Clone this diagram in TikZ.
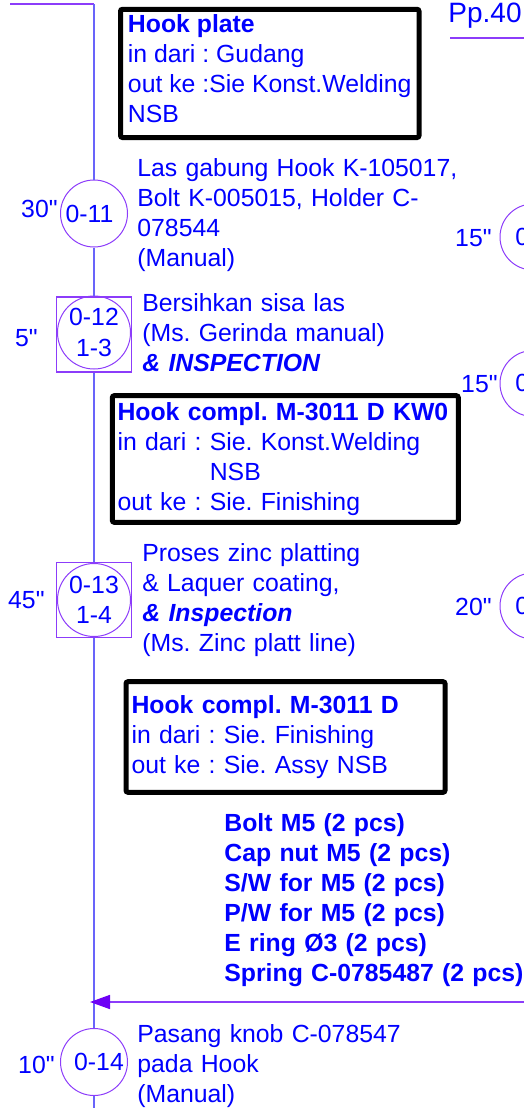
\documentclass[tikz,border=0pt]{standalone}
\usepackage{fontspec}
\setmainfont{Liberation Sans}[Ligatures=TeXOff]
\usepackage{tikz}
\usetikzlibrary{arrows.meta, positioning}
\usepackage{xcolor}
\definecolor{txtblue}{RGB}{0,0,255}
\definecolor{flowline}{RGB}{105,100,250}
\definecolor{oppurple}{RGB}{140,60,250}
\definecolor{arrowviolet}{RGB}{110,0,245}
\frenchspacing

\begin{document}
\begin{tikzpicture}[x=0.5pt, y=-0.5pt,
    every node/.style={text=txtblue, font=\fontsize{12.4}{15}\selectfont, inner sep=0pt},
    op/.style={circle, draw=oppurple, line width=0.5pt, minimum size=33.5pt},
    insp/.style={rectangle, draw=oppurple, line width=0.9pt, minimum width=37.5pt, minimum height=37.5pt},
    tm/.style={anchor=east},
    desc/.style={anchor=base west, align=left, text width=200pt},
    matbox/.style={draw=black, line width=2.5pt, rounded corners=1pt, anchor=north west, align=left},
    flow/.style={draw=flowline, line width=1pt}]
    \useasboundingbox (0,0) rectangle (524,1108);

    % Page ref
    \node[anchor=base west, font=\fontsize{14}{17}\selectfont] (page) at (448,23) {Pp.40};
    \draw[oppurple, line width=0.6pt] (450,38) -- (530,38);

    % Material in
    \node[matbox, minimum width=149.25pt, minimum height=64.1pt] (plate) at (118,6.8)
        {\textbf{Hook plate}\\in dari : Gudang\\out ke :Sie Konst.Welding\\NSB\strut};

    % Welding
    \node[op] (o11) at (94,213.5) {0-11\hspace*{4.5pt}};
    \node[tm] (t11) at (58,209) {30"};
    \node[desc] (d11) at (137,176) {Las gabung Hook K-105017,\\Bolt K-005015, Holder C-\\078544\\(Manual)};

    % Grinding + inspection
    \node[insp] (o12) at (94,334.5) {};
    \node[op, minimum size=36.5pt, align=center, font=\fontsize{12.4}{15.5}\selectfont] (o12c) at ([yshift=1pt]o12) {0-12\\1-3};
    \node[tm] (t12) at (38,338) {5"};
    \node[desc] (d12) at (142,311) {Bersihkan sisa las\\(Ms. Gerinda manual)\\\textbf{\textit{\& INSPECTION}}};

    \node[matbox, inner xsep=2.6pt, text width=167.8pt, minimum height=63.3pt] (kw0) at (109.8,393.2)
        {\textbf{Hook compl. M-3011 D KW0}\\in dari : Sie. Konst.Welding\\\phantom{in dari : }NSB\\out ke : Sie. Finishing};

    % Zinc plating + inspection
    \node[insp] (o13) at (94,600) {};
    \node[op, minimum size=36.5pt, align=center] (o13c) at (o13) {0-13\\1-4};
    \node[tm] (t13) at (45,600) {45"};
    \node[desc] (d13) at (142,561) {Proses zinc platting\\\& Laquer coating,\\\textbf{\textit{\& Inspection}}\\(Ms. Zinc platt line)};

    \node[matbox, inner xsep=2.75pt, text width=154pt, minimum height=55.3pt] (hook) at (123.5,679.2)
        {\textbf{Hook compl. M-3011 D}\\in dari : Sie. Finishing\\out ke : Sie. Assy NSB};

    % Parts
    \node[desc, font=\bfseries\fontsize{12.4}{15}\selectfont] (parts) at (224,831)
        {Bolt M5 (2 pcs)\\Cap nut M5 (2 pcs)\\S/W for M5 (2 pcs)\\P/W for M5 (2 pcs)\\E ring Ø3 (2 pcs)\\Spring C-0785487 (2 pcs)};

    % Assy knob
    \node[op] (o14) at (94,1062) {\hspace*{5pt}0-14};
    \node[tm] (t14) at (55,1065) {10"};
    \node[desc] (d14) at (137,1042) {Pasang knob C-078547\\pada Hook\\(Manual)};

    % Right column (cut off)
    \node[op, minimum size=33pt] (r1) at (533,237) {};
    \node[anchor=west] (r1t) at (515,237) {0};
    \node[tm] (t21) at (492,238) {15"};
    \node[op, minimum size=33pt] (r2) at (533,383.5) {};
    \node[anchor=west] (r2t) at (515,383) {0};
    \node[tm] (t22) at (498,384) {15"};
    \node[op, minimum size=33pt] (r3) at (533,606) {};
    \node[anchor=west] (r3t) at (515,606) {0};
    \node[tm] (t23) at (492,607) {20"};

    % Flow line
    \coordinate (start) at (10,4);
    \coordinate (corner) at (94,4);
    \coordinate (join) at (94,1002);
    \coordinate (partsin) at (530,1002);
    \coordinate (end) at (94,1112);
    \draw[oppurple, line width=1pt] (start) -- (corner);
    \draw[flow] (corner) -- (o11);
    \draw[flow] (o11) -- (o12);
    \draw[flow] (o12) -- (o13);
    \draw[flow] (o13) -- (o14);
    \draw[flow] (o14) -- (end);
    \draw[oppurple, line width=0.8pt, -{Triangle[length=10pt, width=7pt, color=arrowviolet]}] (partsin) -- ([xshift=-2pt]join);
\end{tikzpicture}
\end{document}
